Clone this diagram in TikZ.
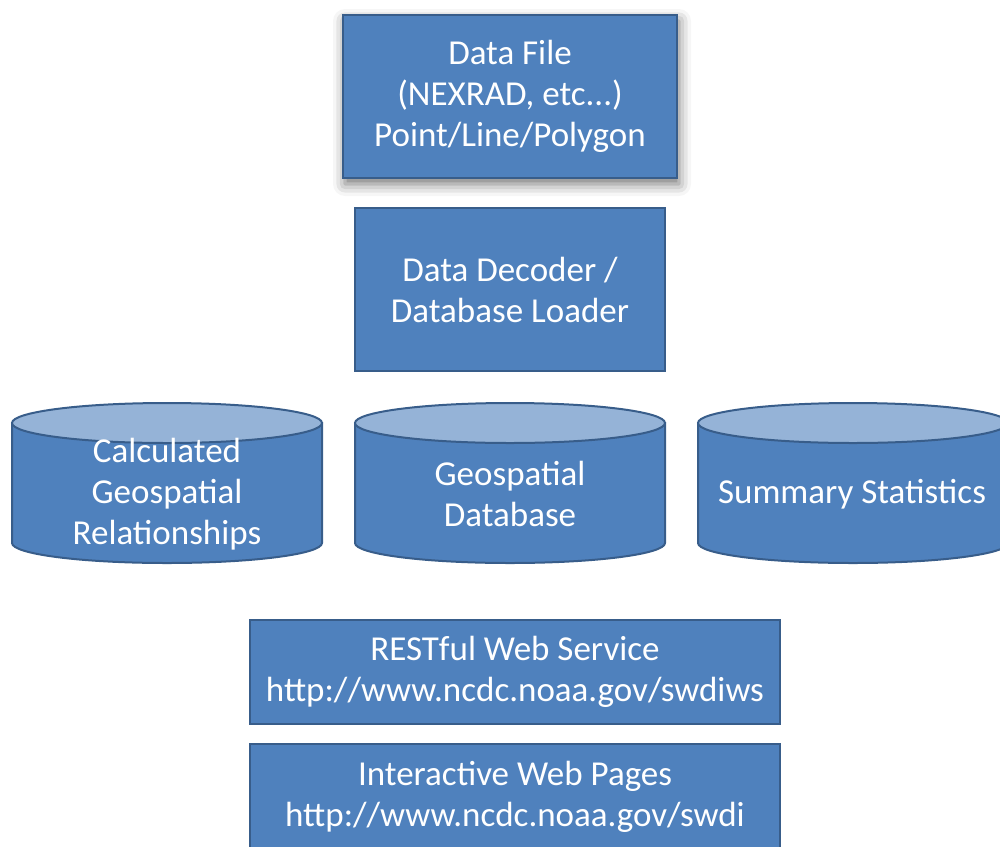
\documentclass[tikz,border=0pt]{standalone}
\usepackage{fontspec}
\setmainfont{Carlito}
\usetikzlibrary{shadows.blur}
\definecolor{boxblue}{HTML}{4F81BD}
\definecolor{boxline}{HTML}{385D8A}
\definecolor{toplight}{HTML}{95B3D7}

\begin{document}
\begin{tikzpicture}[x=0.5pt,y=-0.5pt,
  box/.style={draw=boxline,line width=1pt,fill=boxblue,inner sep=2pt},
  lbl/.style={text=white,align=center,font=\fontsize{17.5}{20.5}\selectfont},
  cyl/.style={draw=boxline,line width=1pt,fill=boxblue},
  cyltop/.style={draw=boxline,line width=1pt,fill=toplight}]
\useasboundingbox (0,0) rectangle (1000,846);
% top boxes
\node[box,lbl,minimum width=167pt,minimum height=81.5pt,
  blur shadow={shadow xshift=1pt,shadow yshift=-3pt,shadow blur radius=6pt,shadow opacity=55}]
  (datafile) at (510,96.5) {Data File\\(NEXRAD, etc...)\\Point/Line/Polygon};
\node[box,lbl,minimum width=155pt,minimum height=81.5pt] (decoder) at (510,289.5) {Data Decoder /\\Database Loader};
% databases
\draw[cyl] (12,423) -- (12,543) arc[start angle=180,end angle=0,x radius=155,y radius=20] -- (322,423) -- cycle;
\draw[cyltop] (167,423) ellipse [x radius=155,y radius=20];
\draw[cyl] (355,423) -- (355,543) arc[start angle=180,end angle=0,x radius=155,y radius=20] -- (665,423) -- cycle;
\draw[cyltop] (510,423) ellipse [x radius=155,y radius=20];
\draw[cyl] (698,423) -- (698,543) arc[start angle=180,end angle=0,x radius=155,y radius=20] -- (1008,423) -- cycle;
\draw[cyltop] (853,423) ellipse [x radius=155,y radius=20];
\node[lbl] (calcrel) at (167,494) {Calculated\\Geospatial\\Relationships};
\node[lbl] (geodb) at (510,494) {Geospatial\\Database};
\node[lbl] (sumstats) at (852,494) {Summary Statistics};
% web access
\node[box,lbl,minimum width=265pt,minimum height=52pt] (restws) at (515,672) {RESTful Web Service\\http://www.ncdc.noaa.gov/swdiws};
\node[box,lbl,minimum width=265pt,minimum height=53pt] (webpages) at (515,797) {Interactive Web Pages\\http://www.ncdc.noaa.gov/swdi};
\end{tikzpicture}
\end{document}
